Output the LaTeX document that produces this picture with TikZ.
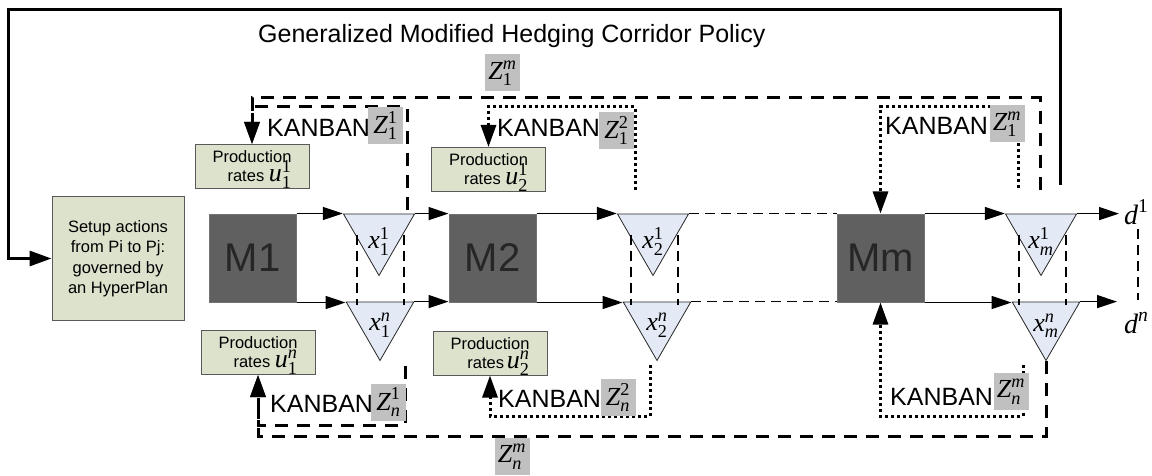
\documentclass[tikz,border=0pt]{standalone}
\usepackage{amsmath}
\usepackage[no-math]{fontspec}
\setmainfont{Liberation Sans}
\newfontfamily\tms{Liberation Serif}
\usetikzlibrary{arrows.meta,shapes.geometric,calc}
\definecolor{boxfill}{RGB}{221,226,205}
\definecolor{trifill}{RGB}{227,233,245}
\definecolor{zgray}{RGB}{192,192,192}
\definecolor{machgray}{RGB}{96,96,96}
% serif italic variable with subscript and superscript
\newcommand{\tv}[3]{$\text{\tms\itshape #1}_{\text{\tms #2}}^{\text{\tms #3}}$}
\newcommand{\tsup}[2]{$\text{\tms\itshape #1}^{\text{\tms #2}}$}
% large rate symbol inside a text line, kept from widening the line spacing
\newcommand{\umath}[2]{\smash{\fontsize{26}{26}\selectfont\tv{u}{#1}{#2}}}
\begin{document}
\begin{tikzpicture}[x=1pt,y=-1pt]
\tikzset{
  mach/.style={draw=black!55, line width=1pt, fill=machgray, minimum width=87pt,
    minimum height=88pt, inner sep=0pt, font=\fontsize{40}{40}\selectfont, text=black!85},
  tritop/.style={regular polygon, regular polygon sides=3, shape border rotate=180,
    draw=black!85, line width=0.8pt, fill=trifill, inner sep=0pt, minimum size=82pt},
  tribot/.style={tritop, minimum size=78pt},
  xlab/.style={inner sep=0pt, font=\fontsize{26}{26}\selectfont},
  prodbox/.style={draw=black!65, line width=1pt, fill=boxfill, minimum width=114pt,
    minimum height=44pt, inner sep=0pt, align=right, font=\fontsize{16.5}{19}\selectfont},
  setupbox/.style={draw=black!65, line width=1pt, fill=boxfill, minimum width=132pt,
    minimum height=123pt, inner sep=0pt, align=center, font=\fontsize{16.5}{20.5}\selectfont},
  kan/.style={inner sep=0pt, font=\fontsize{25}{25}\selectfont},
  zbox/.style={fill=zgray, minimum width=35pt, minimum height=37pt, inner sep=0pt,
    font=\fontsize{26}{26}\selectfont},
  dlab/.style={inner sep=0pt, font=\fontsize{28}{28}\selectfont},
  flow/.style={line width=1.6pt, -{Triangle[length=20pt,width=13pt]}},
  fine dash/.style={line width=1.5pt, dash pattern=on 10pt off 6pt},
  kdash/.style={line width=3pt, dash pattern=on 13pt off 9pt},
  kdot/.style={line width=3pt, dash pattern=on 3pt off 3pt},
  ktip/.style={-{Triangle[length=22pt,width=15pt]}},
  fb/.style={line width=3pt, -{Triangle[length=22pt,width=15pt]}},
}
\useasboundingbox (0,0) rectangle (1152,476);
\fill[white] (0,0) rectangle (1152,476);

% title
\node[kan, anchor=base west] (title) at (258,43) {Generalized Modified Hedging Corridor Policy};

% setup box
\node[setupbox] (setup) at (118,258.5) {Setup actions\\from Pi to Pj:\\governed by\\an HyperPlan};

% machines
\node[mach] (M1) at (252.5,258) {M1};
\node[mach] (M2) at (492.5,258) {M2};
\node[mach] (Mm) at (880.5,258) {Mm};

% buffers
\node[tritop] (t11) at (379,234.5) {};
\node[tritop] (t21) at (653,234.5) {};
\node[tritop] (tm1) at (1041,234.5) {};
\node[tribot] (t1n) at (380,321.5) {};
\node[tribot] (t2n) at (657,321.5) {};
\node[tribot] (tmn) at (1046,321.5) {};

% demands
\node[dlab, anchor=base west] (d1) at (1124,224) {\tsup{d}{1}};
\node[dlab, anchor=base west] (dn) at (1124,333) {\tsup{d}{\textit{n}}};
\coordinate (dl) at (1138,0);

% production rate boxes
\node[prodbox] (pr11) at (252,166.5) {Production\hspace{14pt}\\rates~\umath{1}{1}};
\node[prodbox] (pr21) at (488.5,169.5) {Production\hspace{14pt}\\rates~\umath{2}{1}};
\node[prodbox] (pr1n) at (258,352.5) {Production\hspace{14pt}\\rates~\umath{1}{\textit{n}}};
\node[prodbox] (pr2n) at (490,353) {Production\hspace{14pt}\\rates\,\umath{2}{\textit{n}}};

% kanban captions
\node[kan, anchor=base west] (k11) at (267,137) {KANBAN};
\node[kan, anchor=base west] (k12) at (497,137) {KANBAN};
\node[kan, anchor=base west] (k1m) at (885,135) {KANBAN};
\node[kan, anchor=base west] (kn1) at (270,412) {KANBAN};
\node[kan, anchor=base west] (kn2) at (498,407) {KANBAN};
\node[kan, anchor=base west] (knm) at (890,405) {KANBAN};

% material flow, first product
\draw[flow] (M1.north east) -- (M1.north east -| t11.corner 3);
\draw[flow] (t11.corner 2) -- (t11.corner 2 -| M2.west);
\draw[flow] (M2.north east) -- (M2.north east -| t21.corner 3);
\draw[fine dash] (t21.corner 2) -- (t21.corner 2 -| Mm.west);
\draw[flow] (Mm.north east) -- (Mm.north east -| tm1.corner 3);
\draw[flow, shorten >=5pt] (tm1.corner 2) -- (tm1.corner 2 -| d1.west);
% material flow, product n
\draw[flow] (M1.south east) -- (M1.south east -| t1n.corner 3);
\draw[flow] (t1n.corner 2) -- (t1n.corner 2 -| M2.west);
\draw[flow] (M2.south east) -- (M2.south east -| t2n.corner 3);
\draw[fine dash] (t2n.corner 2) -- (t2n.corner 2 -| Mm.west);
\draw[flow] (Mm.south east) -- (Mm.south east -| tmn.corner 3);
\draw[flow, shorten >=7pt] (tmn.corner 2) -- (tmn.corner 2 -| dn.west);

% coupling between the buffers of one stage
\foreach \a in {t11, t21, tm1}{
  \draw[fine dash] ([xshift=-22pt]\a.center) -- ++(0,70);
  \draw[fine dash] ([xshift=25pt]\a.center) -- ++(0,70);
}
\draw[fine dash] ($(d1.south -| dl)+(0,5)$) -- ($(dn.north -| dl)+(0,-12)$);

% buffer levels
\node[xlab] at ([yshift=-7pt]t11.center) {\tv{x}{1}{1}};
\node[xlab] at ([yshift=-7pt]t21.center) {\tv{x}{2}{1}};
\node[xlab] at ([yshift=-7pt]tm1.center) {\tv{x}{\textit{m}}{1}};
\node[xlab] at ([yshift=-4pt]t1n.center) {\tv{x}{1}{\textit{n}}};
\node[xlab] at ([yshift=-4pt]t2n.center) {\tv{x}{2}{\textit{n}}};
\node[xlab] at ([yshift=-4pt]tmn.center) {\tv{x}{\textit{m}}{\textit{n}}};

% global feedback to the setup decision
\coordinate (fbtop) at (1060,185);
\draw[fb] (fbtop) |- (8,10) |- (setup.west);

% kanban loops, upstream side
\coordinate (z1ms) at (1040,190);
\coordinate (z11s) at (407,210);
\coordinate (z12s) at (635,190);
\coordinate (zm1s) at (1018,188);
\draw[kdash, ktip] (z1ms) -- ++(0,-92) -| (pr11.north);
\draw[kdash, ktip] (z11s) -- ++(0,-103) -| (pr11.north);
\draw[kdot, ktip] (z12s) -- ++(0,-83) -| (pr21.north);
\draw[kdot, ktip] (zm1s) -- ++(0,-81) -| (Mm.north);

% kanban loops, downstream side
\coordinate (zn1s) at (405,366);
\coordinate (zn2s) at (650,365);
\coordinate (znms) at (1023,365);
\draw[kdash, ktip] (tmn.corner 1) |- (258,436) -- (pr1n.south);
\draw[kdash, ktip] (zn1s) -- ++(0,59) -| (pr1n.south);
\draw[kdot, ktip] (zn2s) -- ++(0,51) -| (pr2n.south);
\draw[kdot, ktip] (znms) -- ++(0,51) -| (Mm.south);

% kanban sizes, set over the loops
\node[zbox] (z11) at (385.5,125.5) {\tv{Z}{1}{1}};
\node[zbox] (z12) at (616.5,130.5) {\tv{Z}{1}{2}};
\node[zbox] (zk1m) at (1007,124) {\tv{Z}{1}{\textit{m}}};
\node[zbox] (zn1) at (388.5,402) {\tv{Z}{\textit{n}}{1}};
\node[zbox] (zn2) at (618,397.5) {\tv{Z}{\textit{n}}{2}};
\node[zbox] (zknm) at (1011,391.5) {\tv{Z}{\textit{n}}{\textit{m}}};
\node[zbox] (z1m) at (502.5,73) {\tv{Z}{1}{\textit{m}}};
\node[zbox] (znm) at (512,456.5) {\tv{Z}{\textit{n}}{\textit{m}}};
\end{tikzpicture}
\end{document}
